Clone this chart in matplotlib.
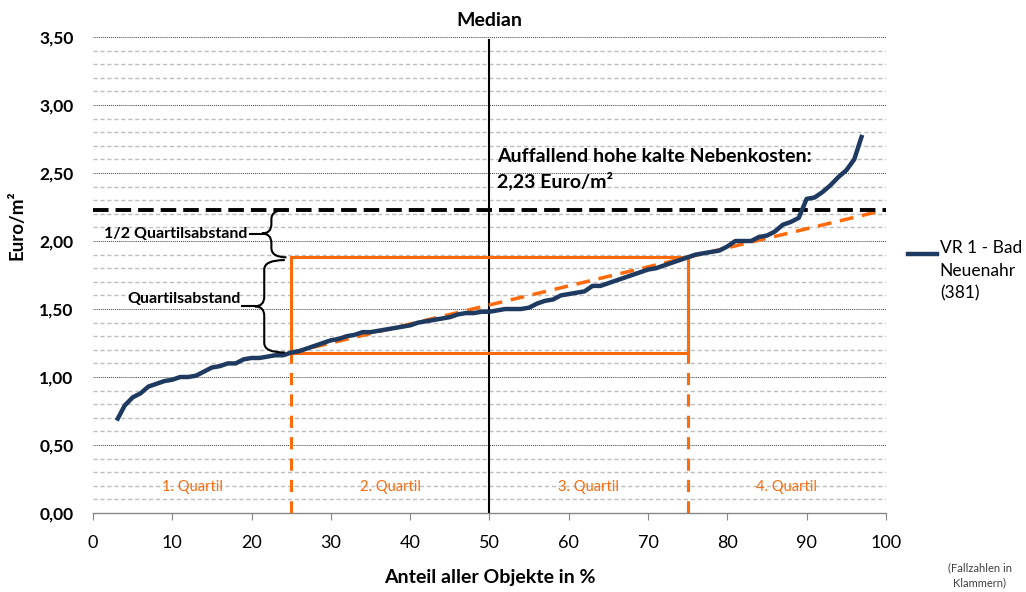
import numpy as np
import matplotlib
matplotlib.use('Agg')
import matplotlib.pyplot as plt
from matplotlib.path import Path
from matplotlib.patches import PathPatch, Rectangle
from matplotlib.lines import Line2D
from matplotlib.ticker import MultipleLocator, FuncFormatter

plt.rcParams['font.family'] = ['Lato', 'DejaVu Sans']

# share of objects (%) and cold side costs (Euro/m2)
anteil = [3, 4, 5, 6, 7, 8, 9, 10, 11, 12, 13, 14, 15, 16, 17, 18, 19, 20,
          21, 22, 23, 24, 25, 26, 27, 28, 29, 30, 31, 32, 33, 34, 35, 36, 37,
          38, 39, 40, 41, 42, 43, 44, 45, 46, 47, 48, 49, 50, 51, 52, 53, 54,
          55, 56, 57, 58, 59, 60, 61, 62, 63, 64, 65, 66, 67, 68, 69, 70, 71,
          72, 73, 74, 75, 76, 77, 78, 79, 80, 81, 82, 83, 84, 85, 86, 87, 88,
          89, 90, 91, 92, 93, 94, 95, 96, 97]
kosten = [0.68, 0.79, 0.85, 0.88, 0.93, 0.95, 0.97, 0.98, 1.00, 1.00, 1.01,
          1.04, 1.07, 1.08, 1.10, 1.10, 1.13, 1.14, 1.14, 1.15, 1.16, 1.16,
          1.18, 1.19, 1.21, 1.23, 1.25, 1.27, 1.28, 1.30, 1.31, 1.33, 1.33,
          1.34, 1.35, 1.36, 1.37, 1.38, 1.40, 1.41, 1.42, 1.43, 1.44, 1.46,
          1.47, 1.47, 1.48, 1.48, 1.49, 1.50, 1.50, 1.50, 1.51, 1.54, 1.56,
          1.57, 1.60, 1.61, 1.62, 1.63, 1.67, 1.67, 1.69, 1.71, 1.73, 1.75,
          1.77, 1.79, 1.80, 1.82, 1.84, 1.86, 1.88, 1.90, 1.91, 1.92, 1.93,
          1.96, 2.00, 2.00, 2.00, 2.03, 2.04, 2.07, 2.12, 2.14, 2.17, 2.31,
          2.32, 2.36, 2.41, 2.47, 2.52, 2.60, 2.78]

q1, q3 = 1.18, 1.88
grenze = 2.23
quartil_labels = ['1. Quartil', '2. Quartil', '3. Quartil', '4. Quartil']
legend_label = 'VR 1 - Bad\nNeuenahr\n(381)'

navy = '#1F3A60'
orange = '#FF6A0A'


def brace(ax, x, ytop, ybot, wr, wl, r):
    """Curly brace opening to the right, tip pointing left."""
    ym = (ytop + ybot) / 2
    verts = [(x + wr, ytop), (x, ytop), (x, ytop - r),
             (x, ym + r), (x, ym), (x - wl, ym),
             (x, ym), (x, ym - r),
             (x, ybot + r), (x, ybot), (x + wr, ybot)]
    codes = [Path.MOVETO, Path.CURVE3, Path.CURVE3,
             Path.LINETO, Path.CURVE3, Path.CURVE3,
             Path.CURVE3, Path.CURVE3,
             Path.LINETO, Path.CURVE3, Path.CURVE3]
    ax.add_patch(PathPatch(Path(verts, codes), fill=False, lw=1.5,
                           color='black', clip_on=False, zorder=5))
    return ym


fig = plt.figure(figsize=(10.26, 5.92), dpi=100)
ax = fig.add_axes([0.0906, 0.1334, 0.7729, 0.8041])
ax.set_xlim(0, 100)
ax.set_ylim(0, 3.5)

# grid: light dashed every 0.1, fine dotted every 0.5
for v in np.arange(0.1, 3.5, 0.1):
    if abs(v / 0.5 - round(v / 0.5)) < 1e-6:
        continue
    ax.axhline(v, color='#BDBDBD', lw=1.0, ls=(0, (3, 2)), zorder=1)
for v in np.arange(0.5, 3.51, 0.5):
    ax.axhline(v, color='#404040', lw=0.7, ls=(0, (1, 1)), zorder=1)

for s in ['left', 'top', 'right']:
    ax.spines[s].set_visible(False)
ax.spines['bottom'].set_color('#868686')
ax.spines['bottom'].set_linewidth(1.0)

ax.xaxis.set_major_locator(MultipleLocator(10))
ax.yaxis.set_major_locator(MultipleLocator(0.5))
ax.yaxis.set_major_formatter(FuncFormatter(lambda v, p: f'{v:.2f}'.replace('.', ',')))
ax.tick_params(axis='x', direction='out', length=5, color='#868686',
               labelsize=13, pad=11)
ax.tick_params(axis='y', length=0, labelsize=12.5, pad=14)
for lab in ax.get_yticklabels():
    lab.set_fontweight('bold')

# median line
ax.plot([50, 50], [0, 3.48], color='black', lw=1.5, zorder=3)
ax.text(50, 3.56, 'Median', ha='center', va='bottom', fontsize=14,
        fontweight='bold')

# quartile box and lines
ax.add_patch(Rectangle((25, q1), 50, q3 - q1, fill=False, ec=orange, lw=2.2,
                       zorder=3))
ax.plot([25, 25], [0, q1], color=orange, lw=2.2, ls=(0, (4, 3)), zorder=3)
ax.plot([75, 75], [0, q1], color=orange, lw=2.2, ls=(0, (4, 3)), zorder=3)
slope = (q3 - q1) / 50
ax.plot([25, 100], [q1, q1 + slope * 75], color=orange, lw=2.5,
        ls=(0, (4, 2.5)), zorder=4)

for xc, lab in zip([12.5, 37.5, 62.5, 87.5], quartil_labels):
    ax.text(xc, 0.19, lab, ha='center', va='center', fontsize=10.5,
            color=orange)

# threshold line
ax.axhline(grenze, color='black', lw=2.8, ls=(0, (4, 1.8)), zorder=4)
ax.text(51, 2.53, 'Auffallend hohe kalte Nebenkosten:\n2,23 Euro/m²',
        ha='left', va='center', fontsize=14, fontweight='bold',
        linespacing=1.45, zorder=6)

# data curve
ax.plot(anteil, kosten, color=navy, lw=3.2, solid_capstyle='butt', zorder=5)

# braces for the quartile distance
ym1 = brace(ax, 22.5, grenze, q3, 1.9, 1.2, 0.07)
ax.plot([19.8, 21.3], [ym1, ym1], color='black', lw=1.5)
ax.text(19.5, ym1, '1/2 Quartilsabstand', ha='right', va='center',
        fontsize=11.5, fontweight='bold')
ym2 = brace(ax, 21.6, q3 - 0.02, q1, 2.6, 1.2, 0.07)
ax.plot([18.8, 20.4], [ym2, ym2], color='black', lw=1.5)
ax.text(18.6, ym2 + 0.05, 'Quartilsabstand', ha='right', va='center',
        fontsize=11.5, fontweight='bold')

ax.set_xlabel('Anteil aller Objekte in %', fontsize=14, fontweight='bold',
              labelpad=13)
fig.text(0.017, 0.62, 'Euro/m²', rotation=90, ha='center', va='center',
         fontsize=13.5, fontweight='bold')

# legend entry, handle next to the first text line
fig.add_artist(Line2D([0.885, 0.913], [0.571, 0.571], color=navy, lw=3.2))
fig.text(0.916, 0.594, legend_label, ha='left', va='top', fontsize=12.5,
         linespacing=1.5)

fig.text(0.955, 0.028, '(Fallzahlen in\nKlammern)', ha='center', va='center',
         fontsize=8, color='#404040', linespacing=1.5)

fig.savefig('out.png', dpi=100)
